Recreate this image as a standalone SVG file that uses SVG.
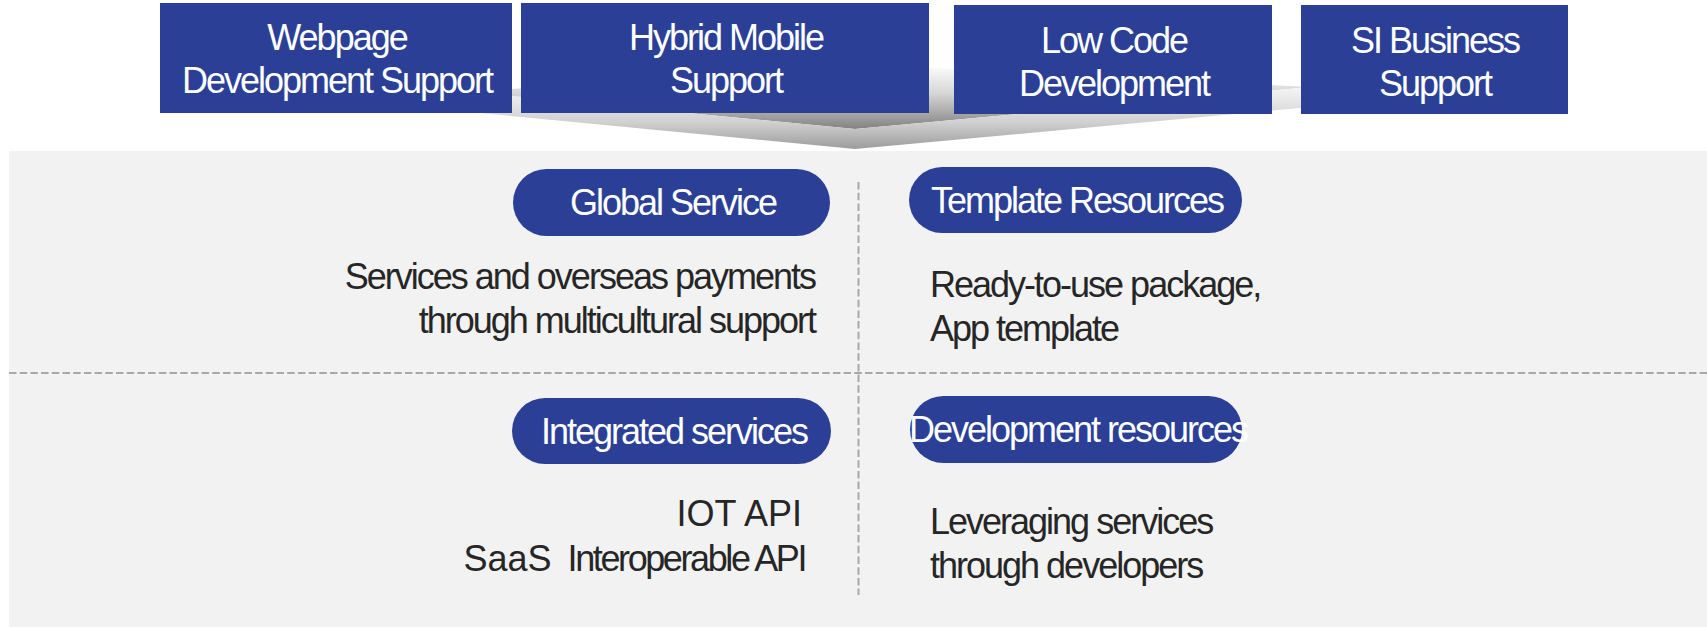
<svg xmlns="http://www.w3.org/2000/svg" width="1707" height="627" viewBox="0 0 1707 627">
  <style>
    text { font-family: "Liberation Sans", Arial, sans-serif; font-size: 36px; letter-spacing: -2px; }
    .box { fill: #2B3F97; }
    .wt { fill: #FFFFFF; text-anchor: middle; }
    .bd { fill: #262626; }
    .end { text-anchor: end; }
    .dash { stroke: #A8A8A8; stroke-width: 2; stroke-dasharray: 7.5 3.2; fill: none; }
  </style>
  <defs>
    <linearGradient id="gTop" gradientUnits="userSpaceOnUse" x1="0" y1="64" x2="0" y2="129">
      <stop offset="0" stop-color="#FFFFFF"/>
      <stop offset="0.45" stop-color="#D6D6D6"/>
      <stop offset="1" stop-color="#828282"/>
    </linearGradient>
    <linearGradient id="gFront" gradientUnits="userSpaceOnUse" x1="0" y1="90" x2="0" y2="149">
      <stop offset="0" stop-color="#F2F2F2"/>
      <stop offset="0.55" stop-color="#D0D0D0"/>
      <stop offset="1" stop-color="#9C9C9C"/>
    </linearGradient>
  </defs>

  <rect x="0" y="0" width="1707" height="627" fill="#FFFFFF"/>
  <rect id="panel" x="9" y="151" width="1698" height="476" fill="#F2F2F2"/>

  <g id="connectors">
    <polygon points="470,92 855,64 1310,87 855,129" fill="url(#gTop)"/>
    <polygon points="470,92 855,129 1310,87 1310,107 855,149 470,112" fill="url(#gFront)"/>
  </g>

  <g id="dividers">
    <line class="dash" x1="9" y1="373" x2="1707" y2="373"/>
    <line class="dash" x1="858.5" y1="182" x2="858.5" y2="595"/>
  </g>

  <g id="webpage">
    <rect class="box" x="160" y="3" width="352" height="110"/>
    <text class="wt" x="337" y="50">Webpage</text>
    <text class="wt" x="337" y="93">Development Support</text>
  </g>
  <g id="hybrid">
    <rect class="box" x="521" y="3" width="408" height="110"/>
    <text class="wt" x="726" y="50">Hybrid Mobile</text>
    <text class="wt" x="726" y="93">Support</text>
  </g>
  <g id="lowcode">
    <rect class="box" x="954" y="5" width="318" height="109"/>
    <text class="wt" x="1114" y="53">Low Code</text>
    <text class="wt" x="1114" y="96">Development</text>
  </g>
  <g id="si">
    <rect class="box" x="1301" y="5" width="267" height="109"/>
    <text class="wt" x="1435" y="53">SI Business</text>
    <text class="wt" x="1435" y="96">Support</text>
  </g>

  <g id="global">
    <rect class="box" x="513" y="169" width="317" height="67" rx="33.5"/>
    <text class="wt" x="673" y="215">Global Service</text>
    <text class="bd end" x="815" y="289">Services and overseas payments</text>
    <text class="bd end" x="815" y="333">through multicultural support</text>
  </g>
  <g id="template">
    <rect class="box" x="909" y="167" width="333" height="66" rx="33"/>
    <text class="wt" x="1077" y="213">Template Resources</text>
    <text class="bd" x="930" y="297">Ready-to-use package,</text>
    <text class="bd" x="930" y="341">App template</text>
  </g>
  <g id="integrated">
    <rect class="box" x="512" y="398" width="319" height="66" rx="33"/>
    <text class="wt" x="674" y="444">Integrated services</text>
    <text class="bd end" x="802" y="526" style="letter-spacing:0px">IOT API</text>
    <text class="bd end" x="805" y="571"><tspan style="letter-spacing:0px">SaaS </tspan><tspan dx="6" style="letter-spacing:-2.4px">Interoperable API</tspan></text>
  </g>
  <g id="devres">
    <rect class="box" x="910" y="396" width="332" height="67" rx="33.5"/>
    <text class="wt" x="1078" y="442">Development resources</text>
    <text class="bd" x="930" y="534">Leveraging services</text>
    <text class="bd" x="930" y="578">through developers</text>
  </g>
</svg>
